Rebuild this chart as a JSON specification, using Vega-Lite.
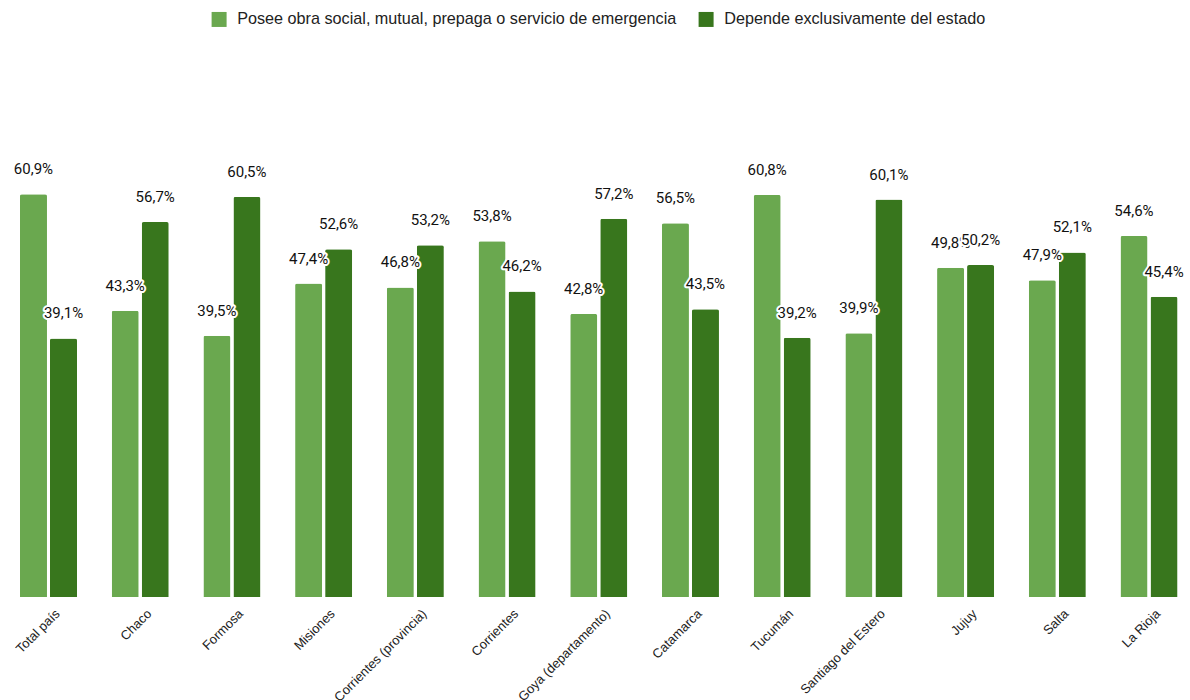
{
  "$schema": "https://vega.github.io/schema/vega-lite/v6.json",
  "autosize": {"type": "none"},
  "width": 1188,
  "height": 496,
  "padding": {"left": 2, "top": 101, "right": 0, "bottom": 103},
  "background": "white",
  "config": {
    "view": {"stroke": null},
    "font": "Roboto",
    "locale": {"number": {"decimal": ",", "thousands": ".", "grouping": [3], "currency": ["$", ""]}}
  },
  "data": {
    "values": [
      {"region": "Total país", "serie": "Posee obra social, mutual, prepaga o servicio de emergencia", "v": 0.609},
      {"region": "Total país", "serie": "Depende exclusivamente del estado", "v": 0.391},
      {"region": "Chaco", "serie": "Posee obra social, mutual, prepaga o servicio de emergencia", "v": 0.433},
      {"region": "Chaco", "serie": "Depende exclusivamente del estado", "v": 0.567},
      {"region": "Formosa", "serie": "Posee obra social, mutual, prepaga o servicio de emergencia", "v": 0.395},
      {"region": "Formosa", "serie": "Depende exclusivamente del estado", "v": 0.605},
      {"region": "Misiones", "serie": "Posee obra social, mutual, prepaga o servicio de emergencia", "v": 0.474},
      {"region": "Misiones", "serie": "Depende exclusivamente del estado", "v": 0.526},
      {"region": "Corrientes (provincia)", "serie": "Posee obra social, mutual, prepaga o servicio de emergencia", "v": 0.468},
      {"region": "Corrientes (provincia)", "serie": "Depende exclusivamente del estado", "v": 0.532},
      {"region": "Corrientes", "serie": "Posee obra social, mutual, prepaga o servicio de emergencia", "v": 0.538},
      {"region": "Corrientes", "serie": "Depende exclusivamente del estado", "v": 0.462},
      {"region": "Goya (departamento)", "serie": "Posee obra social, mutual, prepaga o servicio de emergencia", "v": 0.428},
      {"region": "Goya (departamento)", "serie": "Depende exclusivamente del estado", "v": 0.572},
      {"region": "Catamarca", "serie": "Posee obra social, mutual, prepaga o servicio de emergencia", "v": 0.565},
      {"region": "Catamarca", "serie": "Depende exclusivamente del estado", "v": 0.435},
      {"region": "Tucumán", "serie": "Posee obra social, mutual, prepaga o servicio de emergencia", "v": 0.608},
      {"region": "Tucumán", "serie": "Depende exclusivamente del estado", "v": 0.392},
      {"region": "Santiago del Estero", "serie": "Posee obra social, mutual, prepaga o servicio de emergencia", "v": 0.399},
      {"region": "Santiago del Estero", "serie": "Depende exclusivamente del estado", "v": 0.601},
      {"region": "Jujuy", "serie": "Posee obra social, mutual, prepaga o servicio de emergencia", "v": 0.498},
      {"region": "Jujuy", "serie": "Depende exclusivamente del estado", "v": 0.502},
      {"region": "Salta", "serie": "Posee obra social, mutual, prepaga o servicio de emergencia", "v": 0.479},
      {"region": "Salta", "serie": "Depende exclusivamente del estado", "v": 0.521},
      {"region": "La Rioja", "serie": "Posee obra social, mutual, prepaga o servicio de emergencia", "v": 0.546},
      {"region": "La Rioja", "serie": "Depende exclusivamente del estado", "v": 0.454}
    ]
  },
  "encoding": {
    "x": {
      "field": "region", "type": "nominal", "sort": null,
      "scale": {"paddingInner": 0.378, "paddingOuter": 0.166, "align": 0.59},
      "axis": {"title": null, "domain": false, "ticks": false, "labelAngle": -45, "labelFontSize": 13, "labelColor": "#222222", "labelPadding": 10, "labelOffset": 5, "labelFont": "Liberation Sans"}
    },
    "xOffset": {
      "field": "serie", "type": "nominal", "sort": null,
      "scale": {"paddingInner": 0.1, "paddingOuter": 0}
    },
    "y": {
      "field": "v", "type": "quantitative",
      "scale": {"domain": [0, 0.75], "nice": false},
      "axis": null
    }
  },
  "layer": [
    {
      "mark": {"type": "bar", "cornerRadiusTopLeft": 2, "cornerRadiusTopRight": 2},
      "encoding": {
        "color": {
          "field": "serie", "type": "nominal", "sort": null,
          "scale": {"domain": ["Posee obra social, mutual, prepaga o servicio de emergencia", "Depende exclusivamente del estado"], "range": ["#6aa84f", "#38761d"]},
          "legend": {
            "title": null, "orient": "none", "direction": "horizontal",
            "legendX": 209, "legendY": -90, "padding": 0,
            "symbolType": "square", "symbolSize": 225, "symbolStrokeWidth": 0,
            "labelFontSize": 16.2, "labelFont": "Liberation Sans", "labelColor": "#222222", "labelOffset": 10,
            "columnPadding": 21, "labelLimit": 600
          }
        }
      }
    },
    {
      "transform": [{"filter": "datum.serie == 'Posee obra social, mutual, prepaga o servicio de emergencia'"}],
      "mark": {"type": "text", "baseline": "alphabetic", "dy": -20, "fontSize": 15, "stroke": "white", "strokeWidth": 4, "strokeJoin": "round", "fill": "white"},
      "encoding": {"text": {"field": "v", "type": "quantitative", "format": ".1%"}}
    },
    {
      "transform": [{"filter": "datum.serie == 'Posee obra social, mutual, prepaga o servicio de emergencia'"}],
      "mark": {"type": "text", "baseline": "alphabetic", "dy": -20, "fontSize": 15, "fill": "#111111"},
      "encoding": {"text": {"field": "v", "type": "quantitative", "format": ".1%"}}
    },
    {
      "transform": [{"filter": "datum.serie == 'Depende exclusivamente del estado'"}],
      "mark": {"type": "text", "baseline": "alphabetic", "dy": -20, "fontSize": 15, "stroke": "white", "strokeWidth": 4, "strokeJoin": "round", "fill": "white"},
      "encoding": {"text": {"field": "v", "type": "quantitative", "format": ".1%"}}
    },
    {
      "transform": [{"filter": "datum.serie == 'Depende exclusivamente del estado'"}],
      "mark": {"type": "text", "baseline": "alphabetic", "dy": -20, "fontSize": 15, "fill": "#111111"},
      "encoding": {"text": {"field": "v", "type": "quantitative", "format": ".1%"}}
    }
  ]
}
